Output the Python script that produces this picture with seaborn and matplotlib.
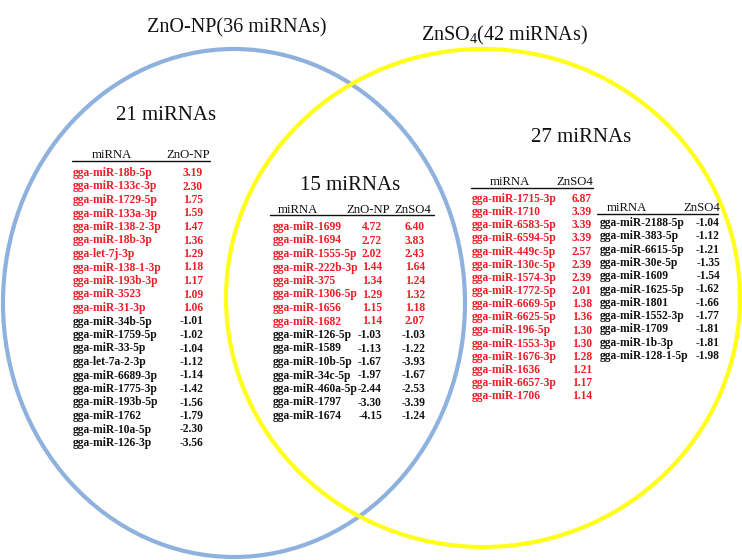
import matplotlib
matplotlib.use("Agg")
import matplotlib.pyplot as plt
from matplotlib.patches import Ellipse
import seaborn as sns

# ---------------- data ----------------
zno_only_names = ["gga-miR-18b-5p", "gga-miR-133c-3p", "gga-miR-1729-5p", "gga-miR-133a-3p",
                  "gga-miR-138-2-3p", "gga-miR-18b-3p", "gga-let-7j-3p", "gga-miR-138-1-3p",
                  "gga-miR-193b-3p", "gga-miR-3523", "gga-miR-31-3p", "gga-miR-34b-5p",
                  "gga-miR-1759-5p", "gga-miR-33-5p", "gga-let-7a-2-3p", "gga-miR-6689-3p",
                  "gga-miR-1775-3p", "gga-miR-193b-5p", "gga-miR-1762", "gga-miR-10a-5p",
                  "gga-miR-126-3p"]
zno_only_vals = [3.19, 2.30, 1.75, 1.59, 1.47, 1.36, 1.29, 1.18, 1.17, 1.09, 1.06,
                 -1.01, -1.02, -1.04, -1.12, -1.14, -1.42, -1.56, -1.79, -2.30, -3.56]

shared_names = ["gga-miR-1699", "gga-miR-1694", "gga-miR-1555-5p", "gga-miR-222b-3p",
                "gga-miR-375", "gga-miR-1306-5p", "gga-miR-1656", "gga-miR-1682",
                "gga-miR-126-5p", "gga-miR-1589", "gga-miR-10b-5p", "gga-miR-34c-5p",
                "gga-miR-460a-5p", "gga-miR-1797", "gga-miR-1674"]
shared_zno = [4.72, 2.72, 2.02, 1.44, 1.34, 1.29, 1.15, 1.14,
              -1.03, -1.13, -1.67, -1.97, -2.44, -3.30, -4.15]
shared_znso4 = [6.40, 3.83, 2.43, 1.64, 1.24, 1.32, 1.18, 2.07,
                -1.03, -1.22, -3.93, -1.67, -2.53, -3.39, -1.24]

znso4_up_names = ["gga-miR-1715-3p", "gga-miR-1710", "gga-miR-6583-5p", "gga-miR-6594-5p",
                  "gga-miR-449c-5p", "gga-miR-130c-5p", "gga-miR-1574-3p", "gga-miR-1772-5p",
                  "gga-miR-6669-5p", "gga-miR-6625-5p", "gga-miR-196-5p", "gga-miR-1553-3p",
                  "gga-miR-1676-3p", "gga-miR-1636", "gga-miR-6657-3p", "gga-miR-1706"]
znso4_up_vals = [6.87, 3.39, 3.39, 3.39, 2.57, 2.39, 2.39, 2.01,
                 1.38, 1.36, 1.30, 1.30, 1.28, 1.21, 1.17, 1.14]

znso4_down_names = ["gga-miR-2188-5p", "gga-miR-383-5p", "gga-miR-6615-5p", "gga-miR-30e-5p",
                    "gga-miR-1609", "gga-miR-1625-5p", "gga-miR-1801", "gga-miR-1552-3p",
                    "gga-miR-1709", "gga-miR-1b-3p", "gga-miR-128-1-5p"]
znso4_down_vals = [-1.04, -1.12, -1.21, -1.35, -1.54, -1.62, -1.66, -1.77, -1.81, -1.81, -1.98]

set_titles = ["ZnO-NP(36 miRNAs)", "ZnSO$_4$(42 miRNAs)"]
region_counts = ["21 miRNAs", "15 miRNAs", "27 miRNAs"]

# ---------------- style ----------------
sns.set_theme(style="white")
plt.rcParams["font.family"] = ["Liberation Serif", "DejaVu Serif"]
plt.rcParams["mathtext.fontset"] = "custom"
plt.rcParams["mathtext.rm"] = "Liberation Serif"
plt.rcParams["mathtext.it"] = "Liberation Serif:italic"

RED = "#ee1c25"
BLACK = "#111111"
BLUE = "#8fb1dd"
YELLOW = "#ffff1a"

fig = plt.figure(figsize=(7.42, 5.60), dpi=100)
ax = fig.add_axes([0, 0, 1, 1])
ax.set_xlim(0, 742)
ax.set_ylim(560, 0)
ax.axis("off")

ax.add_patch(Ellipse((234, 303), 462, 508, fill=False, ec=BLUE, lw=3.0, zorder=1))
ax.add_patch(Ellipse((483, 298), 514, 498, fill=False, ec=YELLOW, lw=3.0, zorder=2))

ax.text(237, 28, set_titles[0], fontsize=14.5, ha="center", va="center", color=BLACK)
ax.text(504, 35, set_titles[1], fontsize=14.5, ha="center", va="center", color=BLACK)

ax.text(166, 116, region_counts[0], fontsize=15, ha="center", va="center", color=BLACK)
ax.text(350, 185, region_counts[1], fontsize=15, ha="center", va="center", color=BLACK)
ax.text(581, 138, region_counts[2], fontsize=15, ha="center", va="center", color=BLACK)

FS = 8.3
HFS = 9.2


def header(x_line0, x_line1, y_text, y_line, items):
    for txt, x in items:
        ax.text(x, y_text, txt, fontsize=HFS, ha="center", va="center", color=BLACK)
    ax.plot([x_line0, x_line1], [y_line, y_line], color=BLACK, lw=1.0)


# left table (ZnO-NP only)
header(72, 210, 155, 161, [("miRNA", 112), ("ZnO-NP", 188)])
y0, dy = 173, 13.5
for i, (n, v) in enumerate(zip(zno_only_names, zno_only_vals)):
    c = RED if v > 0 else BLACK
    y = y0 + i * dy
    ax.text(73, y, n, fontsize=FS, fontweight="bold", color=c, ha="left", va="center")
    ax.text(203, y, f"{v:.2f}", fontsize=FS, fontweight="bold", color=c, ha="right", va="center")

# center table (shared)
header(270, 434, 210, 215, [("miRNA", 298), ("ZnO-NP", 368), ("ZnSO4", 413)])
y0, dy = 227, 13.5
for i, (n, a, b) in enumerate(zip(shared_names, shared_zno, shared_znso4)):
    c = RED if a > 0 else BLACK
    y = y0 + i * dy
    ax.text(273, y, n, fontsize=FS, fontweight="bold", color=c, ha="left", va="center")
    ax.text(382, y, f"{a:.2f}", fontsize=FS, fontweight="bold", color=c, ha="right", va="center")
    ax.text(425, y, f"{b:.2f}", fontsize=FS, fontweight="bold", color=c, ha="right", va="center")

# right table 1 (ZnSO4 up)
header(471, 593, 182, 188, [("miRNA", 510), ("ZnSO4", 575)])
y0, dy = 199, 13.15
for i, (n, v) in enumerate(zip(znso4_up_names, znso4_up_vals)):
    y = y0 + i * dy
    ax.text(472, y, n, fontsize=FS, fontweight="bold", color=RED, ha="left", va="center")
    ax.text(592, y, f"{v:.2f}", fontsize=FS, fontweight="bold", color=RED, ha="right", va="center")

# right table 2 (ZnSO4 down)
header(597, 718, 208, 214, [("miRNA", 627), ("ZnSO4", 702)])
y0, dy = 223, 13.3
for i, (n, v) in enumerate(zip(znso4_down_names, znso4_down_vals)):
    y = y0 + i * dy
    ax.text(600, y, n, fontsize=FS, fontweight="bold", color=BLACK, ha="left", va="center")
    ax.text(720, y, f"{v:.2f}", fontsize=FS, fontweight="bold", color=BLACK, ha="right", va="center")

fig.savefig("out.png", dpi=100, facecolor="white")
